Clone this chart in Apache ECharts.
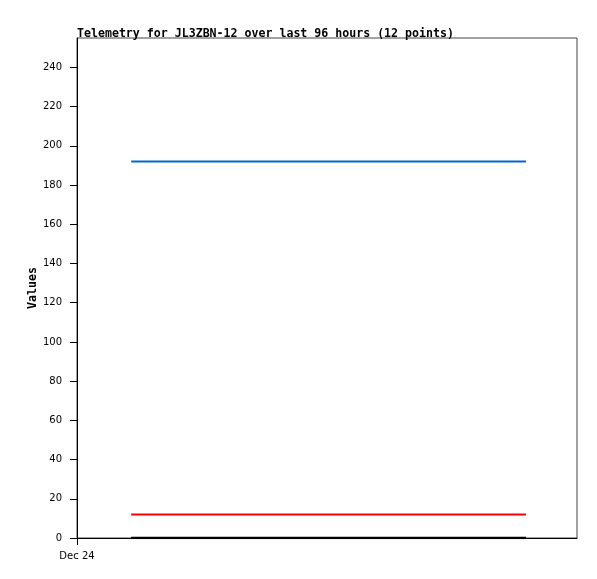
<!DOCTYPE html>
<html><head><meta charset="utf-8">
<script src="https://cdn.jsdelivr.net/npm/echarts@6/dist/echarts.min.js"></script>
<style>html,body{margin:0;padding:0;background:#fff}#c{width:597px;height:579px}</style>
</head><body><div id="c"></div>
<script>
const hours = [2.6, 4.3, 6.0, 7.8, 9.5, 11.2, 12.9, 14.6, 16.4, 18.1, 19.8, 21.55];
const blueVals = [192, 192, 192, 192, 192, 192, 192, 192, 192, 192, 192, 192];
const redVals = [12, 12, 12, 12, 12, 12, 12, 12, 12, 12, 12, 12];
const blackVals = [0, 0, 0, 0, 0, 0, 0, 0, 0, 0, 0, 0];
const yTicks = [0, 20, 40, 60, 80, 100, 120, 140, 160, 180, 200, 220, 240];
const xTickLabels = {0: 'Dec 24'};

const pair = vals => hours.map((h, i) => [h, vals[i]]);
const chart = echarts.init(document.getElementById('c'), null, {renderer: 'canvas'});
const mono = '"DejaVu Sans Mono", monospace';
chart.setOption({
  animation: false,
  title: {
    text: 'Telemetry for JL3ZBN-12 over last 96 hours (12 points)',
    left: 72, top: 23,
    textStyle: {fontFamily: mono, fontWeight: 'bold', fontSize: 11.6, color: '#000'}
  },
  grid: {left: 77, top: 38, width: 500, height: 500, show: true, borderColor: '#444', borderWidth: 1, containLabel: false},
  xAxis: {
    type: 'value', min: 0, max: 24,
    axisLine: {show: true, onZero: false, lineStyle: {color: '#000', width: 1}},
    axisTick: {show: true, length: 7, customValues: [0], lineStyle: {color: '#000'}},
    axisLabel: {customValues: [0], formatter: v => xTickLabels[v] || '', margin: 13,
      fontFamily: '"DejaVu Sans", sans-serif', fontSize: 10, color: '#000'},
    splitLine: {show: false}
  },
  yAxis: {
    type: 'value', min: 0, max: 255,
    name: 'Values', nameLocation: 'middle', nameGap: 38, nameRotate: 90, nameMoveOverlap: false,
    nameTextStyle: {fontFamily: mono, fontWeight: 'bold', fontSize: 11.6, color: '#000'},
    axisLine: {show: true, lineStyle: {color: '#000', width: 1}},
    axisTick: {show: true, length: 7, customValues: yTicks, lineStyle: {color: '#000'}},
    axisLabel: {customValues: yTicks, margin: 15,
      fontFamily: '"DejaVu Sans", sans-serif', fontSize: 10, color: '#000'},
    splitLine: {show: false}
  },
  series: [
    {type: 'line', data: pair(blueVals), symbol: 'none', lineStyle: {color: '#0066cc', width: 2}},
    {type: 'line', data: pair(redVals), symbol: 'none', lineStyle: {color: '#ff0000', width: 2}},
    {type: 'line', data: pair(blackVals), symbol: 'none', lineStyle: {color: '#000000', width: 2.5}}
  ]
});
</script></body></html>
